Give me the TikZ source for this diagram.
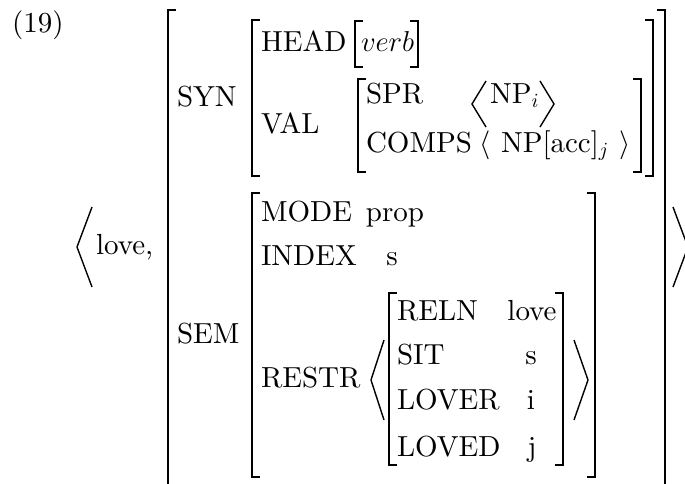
\documentclass[tikz,border=0pt]{standalone}
\usepackage{fontspec}
\setmainfont{lmroman10-regular.otf}[ItalicFont=lmroman10-italic.otf,BoldFont=lmroman10-bold.otf]
\newcommand\avmLB[3]{\draw[brk] ({#1+8},#2) -- (#1,#2) -- (#1,#3) -- ({#1+8},#3);}
\newcommand\avmRB[3]{\draw[brk] ({#1-8},#2) -- (#1,#2) -- (#1,#3) -- ({#1-8},#3);}
\begin{document}
\begin{tikzpicture}[x=0.5pt,y=-0.5pt,
  txt/.style={inner sep=0pt,outer sep=0pt,anchor=base west,font=\fontsize{14.5}{17}\selectfont},
  valc/.style={txt,anchor=base},
  brk/.style={line width=0.9pt,line cap=butt,line join=miter},
  ang/.style={line width=0.7pt,line join=miter}]
\useasboundingbox (0,0) rectangle (685,483);
% labels
\node[txt] (n19) at (12,32) {(19)};
\node[txt] (love) at (96,254) {love,};
\node[txt] (syn) at (177,106) {SYN};
\node[txt] (sem) at (177,343) {SEM};
\node[txt] (head) at (261,51) {HEAD};
\node[txt] (verb) at (361,51) {$verb$};
\node[txt] (val) at (261,133) {VAL};
\node[txt] (spr) at (366,103) {SPR};
\node[txt] (sprv) at (490,103) {NP$_i$};
\node[txt] (comps) at (366,152) {COMPS};
\node[txt] (compsl) at (479,152) {$\langle$};
\node[txt] (compsv) at (501,152) {NP[acc]$_j$};
\node[txt] (compsr) at (619,152) {$\rangle$};
\node[txt] (mode) at (261,221) {MODE};
\node[valc] (modev) at (395,221) {prop};
\node[txt] (index) at (261,265) {INDEX};
\node[valc] (indexv) at (392,265) {s};
\node[txt] (restr) at (261,387) {RESTR};
\node[txt] (reln) at (397,320) {RELN};
\node[valc] (relnv) at (532,320) {love};
\node[txt] (sit) at (397,364) {SIT};
\node[valc] (sitv) at (531,364) {s};
\node[txt] (lover) at (397,409) {LOVER};
\node[valc] (loverv) at (531,409) {i};
\node[txt] (loved) at (397,456) {LOVED};
\node[valc] (lovedv) at (532,456) {j};
% angle brackets
\draw[ang] (92,207) -- (77,247) -- (92,287);
\draw[ang] (673,207) -- (688,247) -- (673,287);
\draw[ang] (486,81) -- (472,104) -- (486,127);
\draw[ang] (540,81) -- (554,104) -- (540,127);
\draw[ang] (384,340) -- (371,380) -- (384,420);
\draw[ang] (574,340) -- (588,380) -- (574,420);
% square brackets
\avmLB{168}{10}{495}
\avmRB{665}{10}{495}
\avmLB{252}{20}{176}
\avmRB{653}{20}{176}
\avmLB{355}{21}{67}
\avmRB{418}{21}{67}
\avmLB{358}{79}{172}
\avmRB{641}{79}{172}
\avmLB{252}{193}{477}
\avmRB{595}{193}{477}
\avmLB{389}{293}{465}
\avmRB{563}{293}{465}
\end{tikzpicture}
\end{document}
